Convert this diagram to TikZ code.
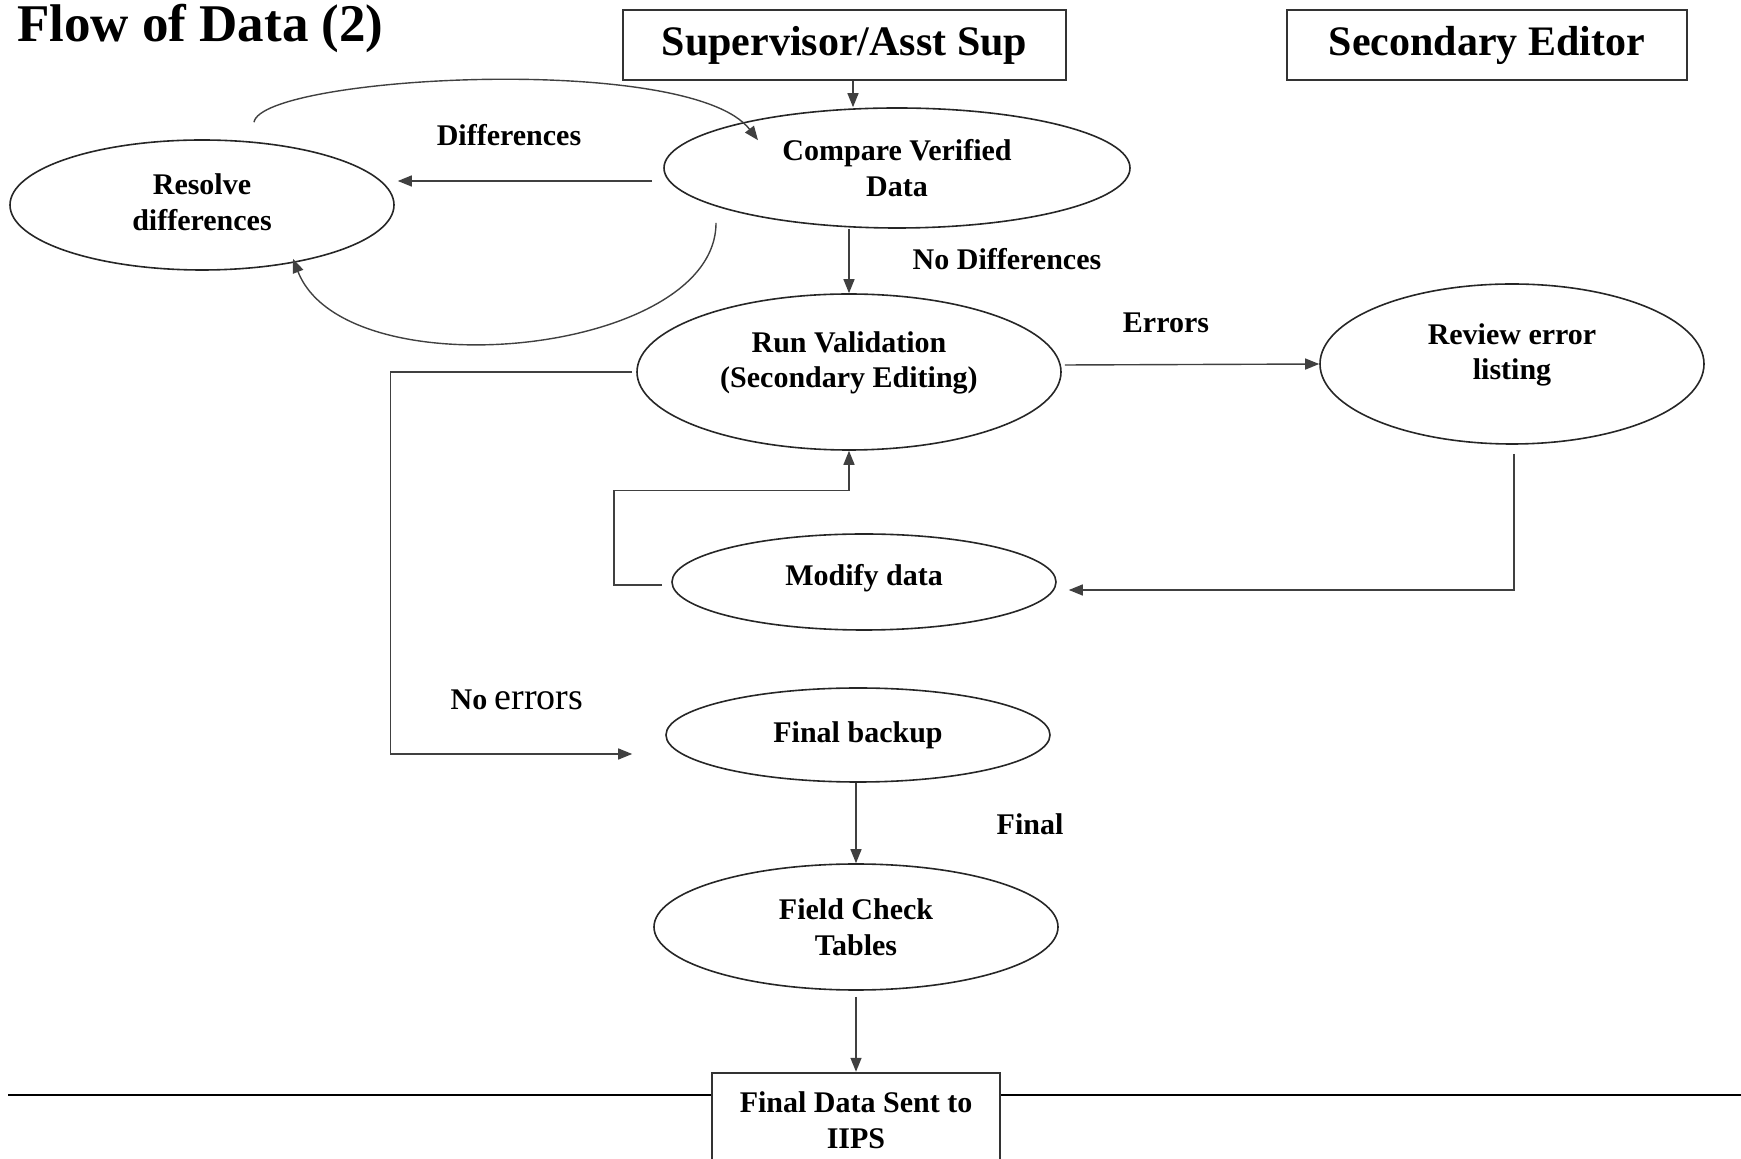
\documentclass[tikz,border=0pt]{standalone}
\usepackage{fontspec}
\setmainfont{Liberation Serif}
\usetikzlibrary{shapes.geometric,arrows.meta,calc}
\tikzset{
	oval/.style={ellipse, draw=black!85, line width=0.8pt, inner sep=0pt, align=center, font=\fontsize{15}{17.8}\selectfont\bfseries},
	headbox/.style={rectangle, draw=black!80, line width=1.2pt, inner sep=0pt, align=center, font=\fontsize{21}{25}\selectfont\bfseries},
	flowarr/.style={draw=black!75, line width=0.7pt, -{Triangle[length=7pt,width=5.5pt]}},
	lbl/.style={font=\fontsize{15}{17.8}\selectfont\bfseries}
}

\begin{document}
\begin{tikzpicture}[x=0.5pt, y=-0.5pt]
			%%%%% START %%%%%
			\useasboundingbox (0, 0) rectangle (1741, 1159);
			
			\node[anchor=base west, font=\fontsize{26.5}{30}\selectfont\bfseries] (title) at (10, 42) {Flow of Data (2)};
			
			\node[headbox, minimum width=221.5pt, minimum height=35pt] (sup) at (844.5, 45) {Supervisor/Asst Sup};
			\node[headbox, minimum width=200pt, minimum height=35pt] (sec) at (1487, 45) {Secondary Editor};
			
			\node[oval, minimum width=233pt, minimum height=60pt] (cmp) at (897, 168) {Compare Verified\\Data};
			\node[oval, minimum width=192pt, minimum height=65pt, text depth=3pt] (res) at (202, 205) {Resolve\\differences};
			\node[oval, minimum width=212pt, minimum height=78pt, text depth=12.5pt] (val) at (849, 372) {Run Validation\\(Secondary Editing)};
			\node[oval, minimum width=192pt, minimum height=80pt, text depth=12.5pt] (rev) at (1512, 364) {Review error\\listing};
			\node[oval, minimum width=192pt, minimum height=48pt, text depth=7pt] (mod) at (864, 582) {Modify data};
			\node[oval, minimum width=192pt, minimum height=47pt] (bak) at (858, 735) {Final backup};
			\node[oval, minimum width=202pt, minimum height=63pt] (fct) at (856, 927) {Field Check\\Tables};
			
			\node[headbox, font=\fontsize{15}{17.8}\selectfont\bfseries, minimum width=144pt, minimum height=47pt] (fin) at (856, 1120) {Final Data Sent to\\IIPS};
			
			\coordinate (lineL) at (8, 1095);
			\coordinate (lineR) at (1741, 1095);
			\draw[line width=0.8pt] (lineL) -- ([shift={(0,-25)}]fin.west);
			\draw[line width=0.8pt] ([shift={(0,-25)}]fin.east) -- (lineR);
			
			% arrows
			\draw[flowarr] (sup.south -| 853, 0) -- (cmp.north -| 853, 0);
			\draw[flowarr] (val.north |- cmp.south) -- (val.north);
			\draw[flowarr] ([shift={(-11,13)}]cmp.west) -- ([shift={(3,-24)}]res.east);
			\draw[flowarr] ([shift={(52,-17)}]res.north) .. controls (262, 76) and (690, 52) .. ([shift={(-139,33)}]cmp.north);
			\draw[flowarr] ([shift={(-181,-6)}]cmp.south) .. controls (716, 356) and (345, 392) .. ([shift={(91,-12)}]res.south);
			\draw[flowarr] ([shift={(3,-7)}]val.east) -- (rev.west);
			\draw[flowarr] ([shift={(2,9)}]rev.south) |- ([shift={(12,8)}]mod.east);
			\draw[flowarr] ([shift={(-9,3)}]mod.west) -| ([shift={(-235,40)}]val.south) -| (val.south);
			\draw[flowarr] ([xshift=-2pt]val.west) -- ++(-242, 0) |- ([shift={(-33,19)}]bak.west);
			\draw[flowarr] (fct.north |- bak.south) -- (fct.north);
			\draw[flowarr] ([yshift=-3pt]fct.south) -- (fin.north);
			
			% labels
			\node[lbl] (ldiff) at (509, 135) {Differences};
			\node[lbl] (lnodiff) at (1007, 259) {No Differences};
			\node[lbl] (lerr) at (1166, 323) {Errors};
			\node[lbl] (lnoerr) at (517, 700) {No {\mdseries\fontsize{19}{22}\selectfont errors}};
			\node[lbl] (lfinal) at (1030, 824) {Final};
			%%%%% END %%%%%
		\end{tikzpicture}
\end{document}
